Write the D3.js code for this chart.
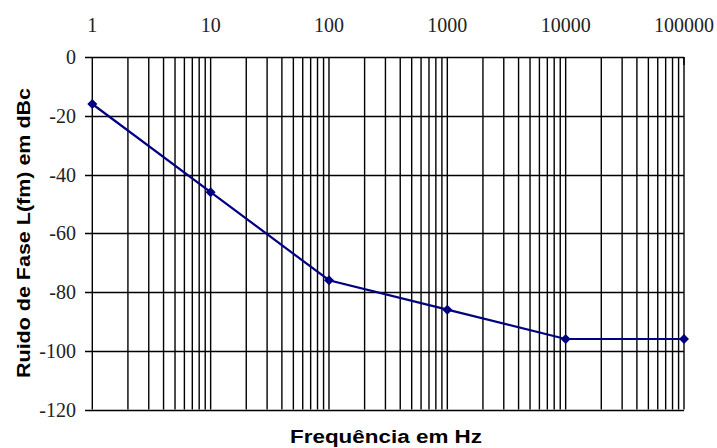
<!DOCTYPE html>
<html><head><meta charset="utf-8">
<script src="https://cdn.jsdelivr.net/npm/d3@7/dist/d3.min.js"></script>
<style>body{margin:0;background:#fff}</style>
</head><body>
<svg id="c" width="717" height="448"></svg>
<script>
const freqs = [1, 10, 100, 1000, 10000, 100000];
const noise = [-16, -46, -76, -86, -96, -96];
const xTickLabels = ["1", "10", "100", "1000", "10000", "100000"];
const yTicks = [0, -20, -40, -60, -80, -100, -120];
const yTitle = "Ruido de Fase L(fm) em dBc";
const xTitle = "Frequência em Hz";

const svg = d3.select("#c");
const x = d3.scaleLog().domain([1, 100000]).range([92.3, 684]);
const y = d3.scaleLinear().domain([0, -120]).range([57, 409.5]);

// vertical grid lines (1..9 per decade)
const vlines = [];
for (let d = 1; d <= 10000; d *= 10) for (let k = 1; k <= 9; k++) vlines.push(d * k);
vlines.push(100000);
svg.append("g").selectAll("line").data(vlines).join("line")
  .attr("x1", d => x(d)).attr("x2", d => x(d))
  .attr("y1", y(0)).attr("y2", y(-120))
  .attr("stroke", "#000").attr("stroke-width", 1.4);

// horizontal grid lines + ticks
svg.append("g").selectAll("line").data(yTicks).join("line")
  .attr("x1", 85).attr("x2", x(100000))
  .attr("y1", d => Math.round(y(d)) + 0.5).attr("y2", d => Math.round(y(d)) + 0.5)
  .attr("stroke", "#000").attr("stroke-width", 1.3);

// top-right tick
svg.append("line").attr("x1", x(100000)).attr("x2", x(100000))
  .attr("y1", y(0)).attr("y2", y(0) + 8).attr("stroke", "#000").attr("stroke-width", 1.4);

// top tick labels
svg.append("g").selectAll("text").data(freqs).join("text")
  .attr("x", d => x(d)).attr("y", 32)
  .attr("text-anchor", "middle")
  .attr("font-family", "Liberation Serif").attr("font-size", 20).attr("fill", "#222")
  .text((d, i) => xTickLabels[i]);

// y tick labels
svg.append("g").selectAll("text").data(yTicks).join("text")
  .attr("x", 76).attr("y", d => y(d) + 7)
  .attr("text-anchor", "end")
  .attr("font-family", "Liberation Serif").attr("font-size", 20).attr("fill", "#222")
  .text(d => d === 0 ? "0" : "-" + Math.abs(d));

// line
const line = d3.line().x((d, i) => x(freqs[i])).y(d => y(d));
svg.append("path").datum(noise).attr("d", line)
  .attr("fill", "none").attr("stroke", "#000080").attr("stroke-width", 2.2);

// diamond markers
svg.append("g").selectAll("path").data(noise).join("path")
  .attr("transform", (d, i) => `translate(${x(freqs[i])},${y(d)})`)
  .attr("d", "M0,-5L5,0L0,5L-5,0Z")
  .attr("fill", "#000080");

// axis titles
svg.append("text")
  .attr("transform", "translate(30,233) rotate(-90)")
  .attr("text-anchor", "middle")
  .attr("font-family", "Liberation Sans").attr("font-weight", "bold").attr("font-size", 19)
  .attr("textLength", 290).attr("lengthAdjust", "spacingAndGlyphs")
  .attr("fill", "#000").text(yTitle);

svg.append("text")
  .attr("x", 386).attr("y", 443)
  .attr("text-anchor", "middle")
  .attr("font-family", "Liberation Sans").attr("font-weight", "bold").attr("font-size", 18)
  .attr("textLength", 192).attr("lengthAdjust", "spacingAndGlyphs")
  .attr("fill", "#000").text(xTitle);
</script>
</body></html>
